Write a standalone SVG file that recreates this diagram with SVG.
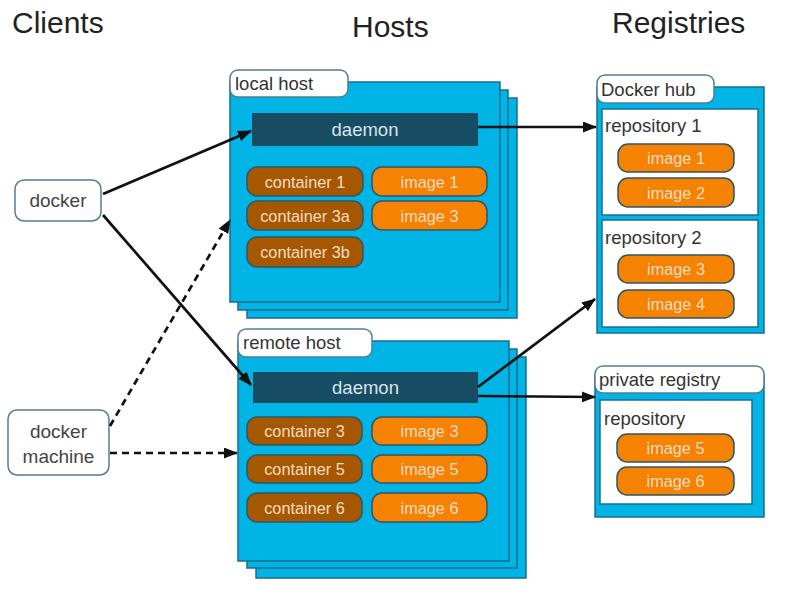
<svg xmlns="http://www.w3.org/2000/svg" width="794" height="595" viewBox="0 0 794 595">
<defs>
<style>
text{font-family:"Liberation Sans",Arial,sans-serif}
.title{font-size:30px;fill:#222}
.host{fill:#00b4e6;stroke:#1a6d8e;stroke-width:1.5}
.tab{fill:#fff;stroke:#4f7f96;stroke-width:1.5}
.tabt{font-size:18.5px;fill:#333}
.daemon{fill:#164d62}
.dt{font-size:18.5px;fill:#d9e4ea;text-anchor:middle}
.ctr{fill:#a65800;stroke:#2f5566;stroke-width:1.5}
.img{fill:#f58200;stroke:#2f5566;stroke-width:1.5}
.pt{font-size:16.3px;fill:#f6dcc4;text-anchor:middle}
.repo{fill:#fff;stroke:#1a6d8e;stroke-width:1.5}
.rt{font-size:18.5px;fill:#333}
.client{fill:#fff;stroke:#4f7f96;stroke-width:1.5}
.ct{font-size:19px;fill:#444;text-anchor:middle}
.ln{stroke:#111;stroke-width:2.7;fill:none;marker-end:url(#ah)}
.dash{stroke-dasharray:7 5}
</style>
<marker id="ah" viewBox="0 0 14 11" refX="13" refY="5.5" markerWidth="14" markerHeight="11" markerUnits="userSpaceOnUse" orient="auto">
<path d="M0,0 L14,5.5 L0,11 z" fill="#111"/>
</marker>
</defs>
<rect width="794" height="595" fill="#fff"/>
<text class="title" x="12" y="33">Clients</text>
<text class="title" x="352" y="37">Hosts</text>
<text class="title" x="612" y="33">Registries</text>

<g id="local-host">
<rect class="host" x="247" y="98" width="270" height="220"/>
<rect class="host" x="238" y="90" width="270" height="220"/>
<rect class="host" x="230" y="82" width="270" height="220"/>
<rect class="tab" x="230" y="70" width="118" height="27" rx="8"/>
<text class="tabt" x="235" y="90">local host</text>
<rect class="daemon" x="252" y="113" width="226" height="33"/>
<text class="dt" x="365" y="136">daemon</text>
<rect class="ctr" x="247" y="167" width="116" height="29" rx="10"/>
<text class="pt" x="305" y="187.5">container 1</text>
<rect class="ctr" x="247" y="201" width="116" height="29" rx="10"/>
<text class="pt" x="305" y="221.5">container 3a</text>
<rect class="ctr" x="247" y="237" width="116" height="30" rx="10"/>
<text class="pt" x="305" y="258">container 3b</text>
<rect class="img" x="372" y="167" width="115" height="29" rx="10"/>
<text class="pt" x="429.5" y="187.5">image 1</text>
<rect class="img" x="372" y="201" width="115" height="29" rx="10"/>
<text class="pt" x="429.5" y="221.5">image 3</text>
</g>

<g id="remote-host">
<rect class="host" x="256" y="357" width="270" height="221"/>
<rect class="host" x="247" y="349" width="270" height="219"/>
<rect class="host" x="238" y="341" width="271" height="220"/>
<rect class="tab" x="238" y="329" width="134" height="28" rx="8"/>
<text class="tabt" x="243" y="349">remote host</text>
<rect class="daemon" x="253" y="372" width="225" height="31"/>
<text class="dt" x="365.5" y="394">daemon</text>
<rect class="ctr" x="247" y="417" width="115" height="28" rx="10"/>
<text class="pt" x="304.5" y="437">container 3</text>
<rect class="ctr" x="247" y="455" width="115" height="28" rx="10"/>
<text class="pt" x="304.5" y="475">container 5</text>
<rect class="ctr" x="247" y="493" width="115" height="29" rx="10"/>
<text class="pt" x="304.5" y="513.5">container 6</text>
<rect class="img" x="372" y="417" width="115" height="28" rx="10"/>
<text class="pt" x="429.5" y="437">image 3</text>
<rect class="img" x="372" y="455" width="115" height="28" rx="10"/>
<text class="pt" x="429.5" y="475">image 5</text>
<rect class="img" x="372" y="493" width="115" height="29" rx="10"/>
<text class="pt" x="429.5" y="513.5">image 6</text>
</g>

<g id="docker-hub">
<rect class="host" x="597" y="87" width="167" height="246"/>
<rect class="tab" x="597" y="75" width="117" height="28" rx="8"/>
<text class="tabt" x="601" y="96">Docker hub</text>
<rect class="repo" x="602" y="109" width="156" height="106"/>
<text class="rt" x="605" y="132">repository 1</text>
<rect class="img" x="618" y="144" width="116" height="28" rx="10"/>
<text class="pt" x="676" y="164">image 1</text>
<rect class="img" x="618" y="178" width="116" height="29" rx="10"/>
<text class="pt" x="676" y="198.5">image 2</text>
<rect class="repo" x="602" y="220" width="156" height="107"/>
<text class="rt" x="605" y="244">repository 2</text>
<rect class="img" x="618" y="255" width="116" height="28" rx="10"/>
<text class="pt" x="676" y="275">image 3</text>
<rect class="img" x="618" y="290" width="116" height="28" rx="10"/>
<text class="pt" x="676" y="310">image 4</text>
</g>

<g id="private-registry">
<rect class="host" x="595" y="375" width="169" height="142"/>
<rect class="tab" x="595" y="366" width="169" height="27" rx="8"/>
<text class="tabt" x="599" y="386">private registry</text>
<rect class="repo" x="600" y="400" width="152" height="104"/>
<text class="rt" x="604" y="425">repository</text>
<rect class="img" x="617" y="434" width="117" height="28" rx="10"/>
<text class="pt" x="675.5" y="454">image 5</text>
<rect class="img" x="617" y="467" width="117" height="28" rx="10"/>
<text class="pt" x="675.5" y="487">image 6</text>
</g>

<g id="docker">
<rect class="client" x="15" y="180" width="86" height="41" rx="9"/>
<text class="ct" x="58" y="207">docker</text>
</g>

<g id="docker-machine">
<rect class="client" x="8" y="410" width="101" height="65" rx="9"/>
<text class="ct" x="58.5" y="438">docker</text>
<text class="ct" x="58.5" y="463">machine</text>
</g>

<g id="connectors">
<line class="ln" x1="103" y1="194" x2="251" y2="131"/>
<line class="ln" x1="103" y1="215" x2="251" y2="385"/>
<line class="ln dash" x1="110" y1="426" x2="230" y2="220"/>
<line class="ln dash" x1="110" y1="453" x2="237" y2="453"/>
<line class="ln" x1="478" y1="127" x2="596" y2="127"/>
<line class="ln" x1="478" y1="387" x2="595" y2="299"/>
<line class="ln" x1="478" y1="396" x2="595" y2="397"/>
</g>
</svg>
